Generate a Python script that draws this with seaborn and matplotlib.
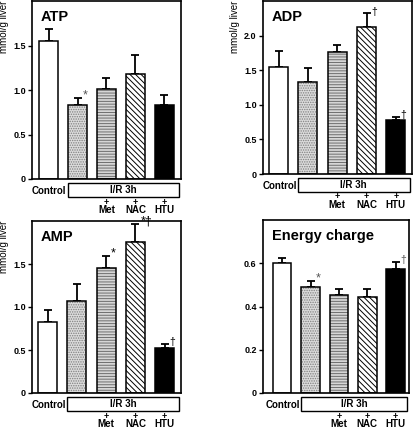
import matplotlib
matplotlib.use('Agg')
import matplotlib.pyplot as plt
import matplotlib.transforms as mtransforms
from matplotlib.patches import Rectangle
from matplotlib.ticker import FuncFormatter
import seaborn as sns
import pandas as pd

# groups (x order)
groups = ['Control', 'I/R', 'I/R+Met', 'I/R+NAC', 'I/R+HTU']
drug_labels = ['', '', 'Met', 'NAC', 'HTU']

# values: mean and upper error (SEM)
atp_mean = [1.55, 0.83, 1.01, 1.18, 0.83]
atp_sem = [0.13, 0.08, 0.12, 0.21, 0.11]
adp_mean = [1.54, 1.33, 1.77, 2.12, 0.78]
adp_sem = [0.24, 0.20, 0.10, 0.20, 0.05]
amp_mean = [0.83, 1.07, 1.45, 1.76, 0.52]
amp_sem = [0.13, 0.20, 0.14, 0.20, 0.05]
ec_mean = [0.603, 0.488, 0.451, 0.442, 0.574]
ec_sem = [0.023, 0.031, 0.028, 0.037, 0.034]

# significance marks
atp_marks = ['', '*', '', '', '']
adp_marks = ['', '', '', '\u2020', '\u2020']
amp_marks = ['', '', '*', '*\u2020', '\u2020']
ec_marks = ['', '*', '', '', '\u2020']

plt.rcParams['font.family'] = ['Liberation Sans', 'DejaVu Sans']
plt.rcParams['font.weight'] = 'bold'
plt.rcParams['hatch.linewidth'] = 0.7

FIG_W, FIG_H = 413, 430
fig = plt.figure(figsize=(FIG_W / 100, FIG_H / 100), dpi=100)


def px_axes(left, top, right, bottom):
    # Achsen in Pixeln, gemessen von links oben
    return fig.add_axes([left / FIG_W, 1 - bottom / FIG_H,
                         (right - left) / FIG_W, (bottom - top) / FIG_H])


# face colour, hatch, hatch colour per group
bar_styles = [
    ('white', None, 'black'),
    ('#dcdcdc', '.......', '#808080'),
    ('#d6d6d6', '------', '#6e6e6e'),
    ('white', '\\\\\\\\\\\\', 'black'),
    ('black', None, 'black'),
]


def draw_panel(ax, means, sems, marks, title, ylim, yticks, ylabel, xlim,
               mark_color):
    df = pd.DataFrame({'group': groups, 'value': means})

    # filled / hatched bars
    sns.barplot(data=df, x='group', y='value', ax=ax, width=0.65,
                color='white', linewidth=0, errorbar=None)
    for patch, (fc, hatch, hc) in zip(ax.patches, bar_styles):
        patch.set_facecolor(fc)
        patch.set_edgecolor(hc)
        patch.set_linewidth(0)
        if hatch:
            patch.set_hatch(hatch)
        patch.set_zorder(2)
    n_fill = len(ax.patches)

    # black outlines on top
    sns.barplot(data=df, x='group', y='value', ax=ax, width=0.65,
                fill=False, edgecolor='black', linewidth=1.1, errorbar=None)
    for patch in ax.patches[n_fill:]:
        patch.set_zorder(3)

    x = list(range(len(groups)))
    ax.errorbar(x, means, yerr=[[0] * len(means), sems], fmt='none',
                ecolor='black', elinewidth=1.3, capsize=3.2, capthick=1.3,
                zorder=1)

    for i, m in enumerate(marks):
        if m:
            ax.annotate(m, xy=(i, means[i] + sems[i]), xytext=(3.5, -2.5),
                        textcoords='offset points', ha='left', va='bottom',
                        fontsize=9 if m.startswith('*') else 7.5,
                        fontweight='normal', color=mark_color)

    ax.set_ylim(*ylim)
    ax.set_xlim(*xlim)
    ax.set_yticks(yticks)
    ax.yaxis.set_major_formatter(
        FuncFormatter(lambda v, p: '0' if v == 0 else f'{v:.1f}'))
    ax.tick_params(axis='y', labelsize=6.5, length=3, width=1, pad=1.5)
    ax.tick_params(axis='x', length=0, labelbottom=False)
    ax.set_xlabel('')
    ax.set_ylabel(ylabel, fontsize=7, loc='top', labelpad=3)
    for sp in ax.spines.values():
        sp.set_linewidth(1.2)
        sp.set_visible(True)

    ax.text(0.06, 0.95, title, transform=ax.transAxes, fontsize=10.5,
            fontweight='bold', ha='left', va='top')

    # Gruppenbeschriftung unter der Achse (x in Daten, y in Zoll)
    tr = mtransforms.blended_transform_factory(ax.transData,
                                               fig.dpi_scale_trans)
    y0 = ax.get_position().y0 * FIG_H / 100
    box_l, box_r = 0.66, xlim[1] - 0.08
    ax.add_patch(Rectangle((box_l, y0 - 18 / 100), box_r - box_l, 14 / 100,
                           transform=tr, facecolor='white', edgecolor='black',
                           linewidth=1.0, clip_on=False))
    ax.text(0.62, y0 - 11.5 / 100, 'Control', transform=tr,
            ha='right', va='center', fontsize=7)
    ax.text((box_l + box_r) / 2, y0 - 11 / 100, 'I/R 3h', transform=tr,
            ha='center', va='center', fontsize=7)
    for i, lab in enumerate(drug_labels):
        if lab:
            ax.text(i, y0 - 23 / 100, '+', transform=tr,
                    ha='center', va='center', fontsize=6.5)
            ax.text(i, y0 - 31 / 100, lab, transform=tr,
                    ha='center', va='center', fontsize=7)


ax1 = px_axes(32, 1, 181, 179)
draw_panel(ax1, atp_mean, atp_sem, atp_marks, 'ATP', (0, 2.0),
           [0, 0.5, 1.0, 1.5], 'mmol/g liver', (-0.57, 4.57), '#555555')

ax2 = px_axes(263, 1, 412, 174)
draw_panel(ax2, adp_mean, adp_sem, adp_marks, 'ADP', (0, 2.5),
           [0, 0.5, 1.0, 1.5, 2.0], 'mmol/g liver', (-0.53, 4.55), 'black')

ax3 = px_axes(32, 221, 181, 393)
draw_panel(ax3, amp_mean, amp_sem, amp_marks, 'AMP', (0, 2.0),
           [0, 0.5, 1.0, 1.5], 'mmol/g liver', (-0.54, 4.56), 'black')

ax4 = px_axes(263, 220, 409, 393)
draw_panel(ax4, ec_mean, ec_sem, ec_marks, 'Energy charge', (0, 0.8),
           [0, 0.2, 0.4, 0.6], '', (-0.68, 4.47), '#555555')

fig.savefig('out.png', dpi=100)
